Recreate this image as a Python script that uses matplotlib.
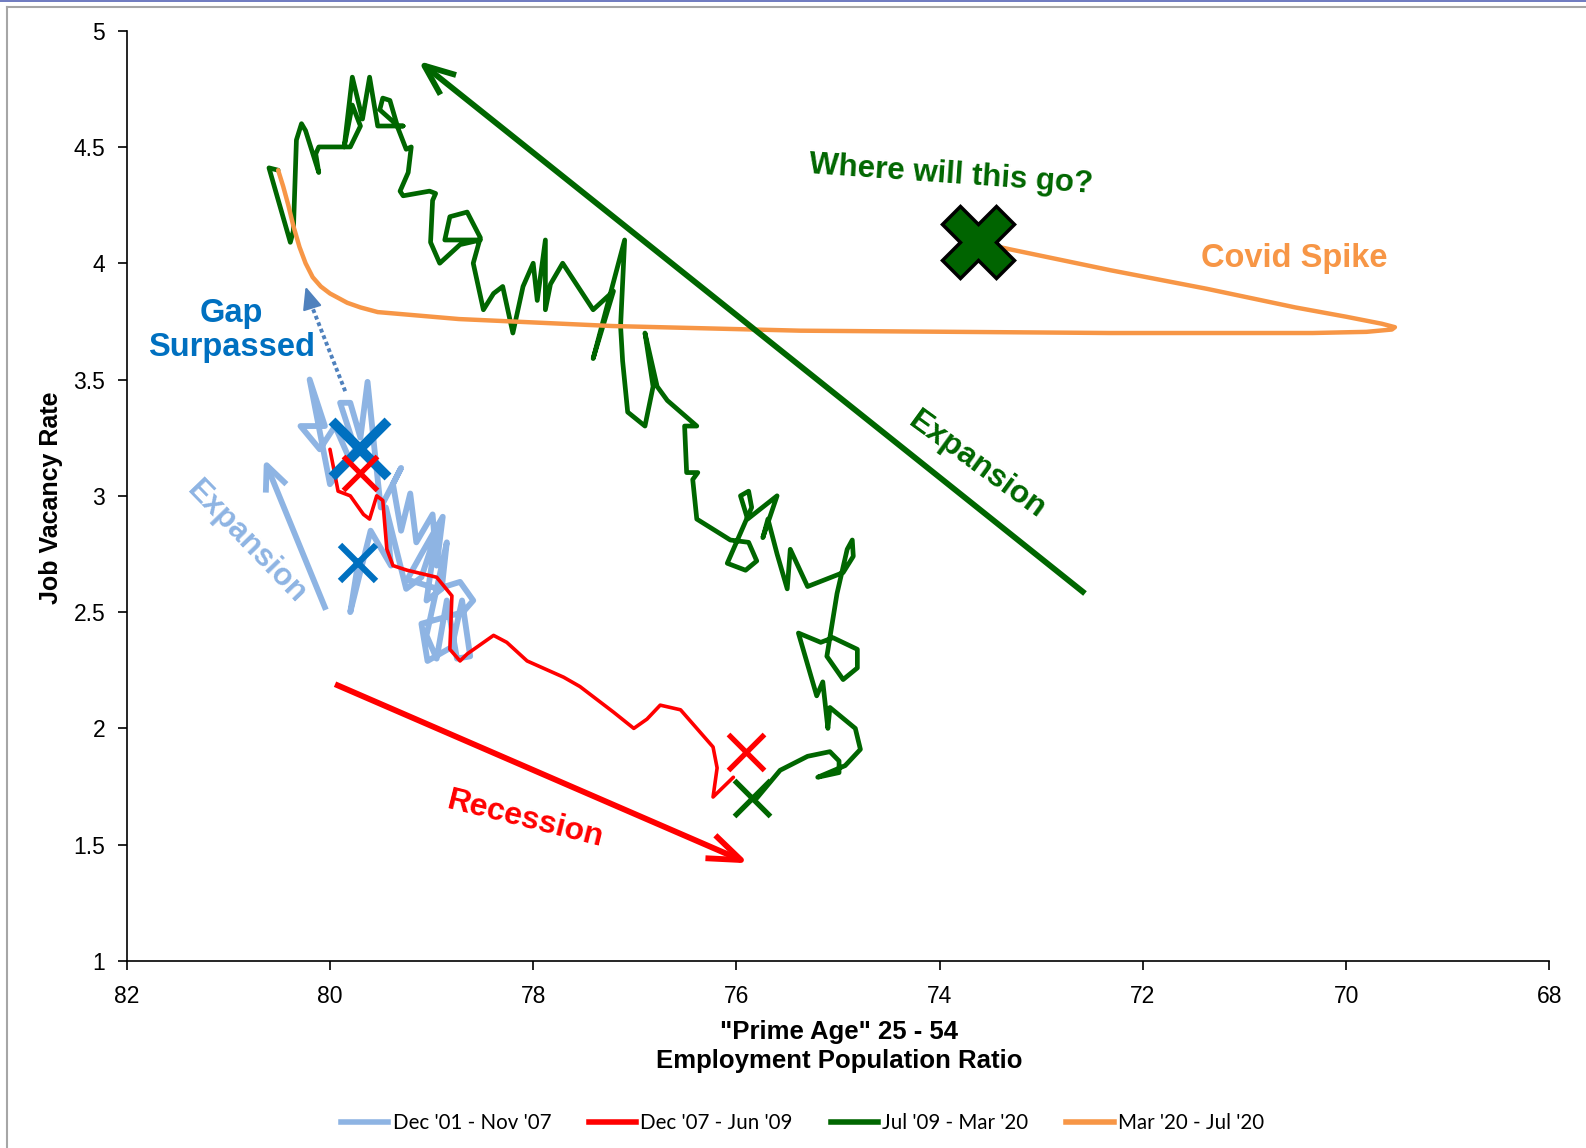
#!/usr/bin/env python3
"""Job vacancy rate vs prime-age employment-population ratio (Beveridge-style loop)."""

import matplotlib
matplotlib.use("Agg")
import matplotlib.pyplot as plt
from matplotlib.lines import Line2D

plt.rcParams["font.family"] = ["Liberation Sans", "DejaVu Sans"]

# --- data --------------------------------------------------------------------
LB_LABEL = "Dec '01 - Nov '07"
RED_LABEL = "Dec '07 - Jun '09"
GREEN_LABEL = "Jul '09 - Mar '20"
COVID_LABEL = "Mar '20 - Jul '20"

lb_x = [79.72, 79.80, 79.60, 79.40, 79.45, 79.25, 79.10, 78.95, 79.05, 78.90,
        78.85, 79.05, 78.95, 78.85, 78.75, 78.62, 78.70, 78.80, 79.04, 79.10,
        78.69, 78.59, 78.72, 78.94, 79.24, 79.10, 78.89, 78.95, 78.99, 79.15,
        79.21, 79.30, 79.38, 79.30, 79.50, 79.55, 79.63, 79.70, 79.80, 79.90,
        79.75, 80.00, 80.20, 80.05, 80.29, 80.10, 79.95, 79.80, 79.70]
lb_y = [2.72, 2.50, 2.85, 2.70, 2.95, 2.60, 2.65, 2.85, 2.55, 2.60,
        2.80, 2.40, 2.30, 2.55, 2.30, 2.31, 2.55, 2.35, 2.29, 2.45,
        2.50, 2.55, 2.63, 2.60, 2.64, 2.75, 2.91, 2.70, 2.92, 2.80,
        3.01, 2.85, 3.05, 3.12, 2.95, 3.15, 3.49, 3.25, 3.40, 3.40,
        3.20, 3.05, 3.50, 3.30, 3.30, 3.20, 3.30, 3.15, 3.20]

red_x = [80.00, 79.92, 79.80, 79.67, 79.61, 79.54, 79.48, 79.44, 79.38, 79.24,
         78.95, 78.80, 78.82, 78.72, 78.65, 78.39, 78.26, 78.06, 77.70, 77.54,
         77.21, 77.01, 76.88, 76.75, 76.55, 76.23, 76.19, 76.23, 76.03]
red_y = [3.20, 3.02, 3.00, 2.92, 2.90, 3.00, 2.98, 2.77, 2.70, 2.68,
         2.65, 2.57, 2.34, 2.29, 2.32, 2.40, 2.37, 2.29, 2.22, 2.18,
         2.07, 2.00, 2.04, 2.10, 2.08, 1.92, 1.83, 1.705, 1.79]

green_x = [75.80, 75.57, 75.30, 75.08, 74.99, 74.99, 75.20, 74.93, 74.78, 74.83,
           75.08, 75.10, 75.15, 75.21, 75.39, 75.17, 75.05, 74.81, 74.81, 74.95,
           75.11, 75.01, 74.91, 74.86, 74.85, 74.95, 75.30, 75.47, 75.50, 75.60,
           75.69, 75.74, 75.60, 75.89, 75.96, 75.88, 75.85, 75.99, 76.09, 75.91,
           75.80, 75.88, 76.06, 76.39, 76.43, 76.38, 76.49, 76.51, 76.39, 76.68,
           76.78, 76.90, 76.82, 76.90, 77.07, 77.12, 77.14, 77.10, 77.41, 77.21,
           77.41, 77.71, 77.83, 77.88, 77.88, 77.96, 78.00, 78.10, 78.20, 78.30,
           78.39, 78.49, 78.59, 78.52, 78.65, 78.82, 78.87, 78.52, 78.72, 78.92,
           79.01, 78.99, 78.96, 79.02, 79.28, 79.31, 79.23, 79.20, 79.25, 79.33,
           79.41, 79.48, 79.51, 79.33, 79.28, 79.53, 79.61, 79.68, 79.78, 79.86,
           79.78, 79.70, 79.80, 79.91, 80.11, 80.14, 80.11, 80.24, 80.28, 80.33,
           80.36, 80.39, 80.60, 80.51]
green_y = [1.70, 1.82, 1.88, 1.90, 1.86, 1.81, 1.79, 1.84, 1.91, 2.00,
           2.09, 2.00, 2.20, 2.14, 2.41, 2.37, 2.39, 2.34, 2.26, 2.21,
           2.31, 2.58, 2.77, 2.81, 2.74, 2.67, 2.61, 2.77, 2.60, 2.75,
           2.90, 2.82, 3.00, 2.90, 3.00, 3.02, 2.95, 2.81, 2.71, 2.68,
           2.72, 2.80, 2.81, 2.90, 3.07, 3.10, 3.10, 3.30, 3.30, 3.41,
           3.47, 3.70, 3.47, 3.30, 3.36, 3.58, 3.73, 4.10, 3.59, 3.88,
           3.80, 4.00, 3.91, 3.80, 4.10, 3.84, 4.00, 3.90, 3.70, 3.90,
           3.87, 3.80, 4.00, 4.11, 4.22, 4.20, 4.10, 4.10, 4.08, 4.00,
           4.09, 4.27, 4.30, 4.31, 4.29, 4.31, 4.39, 4.50, 4.49, 4.58,
           4.70, 4.71, 4.66, 4.59, 4.59, 4.59, 4.80, 4.62, 4.80, 4.50,
           4.68, 4.59, 4.50, 4.50, 4.50, 4.47, 4.39, 4.57, 4.60, 4.53,
           4.14, 4.09, 4.41, 4.40]

covid_x = [80.51, 80.46, 80.41, 80.36, 80.30, 80.24, 80.17, 80.09, 80.00, 79.83,
           79.70, 79.53, 78.73, 77.22, 75.37, 72.32, 70.33, 69.80, 69.55, 69.52,
           69.65, 70.00, 70.50, 71.37, 72.32, 73.31, 73.62]
covid_y = [4.40, 4.33, 4.25, 4.16, 4.07, 4.00, 3.94, 3.90, 3.87, 3.83,
           3.81, 3.79, 3.76, 3.73, 3.71, 3.70, 3.70, 3.705, 3.715, 3.725,
           3.74, 3.77, 3.81, 3.89, 3.97, 4.06, 4.09]

# period start / end markers
blue_x_big = (79.70, 3.20)
blue_x_small = (79.72, 2.71)
red_x_start = (79.70, 3.10)
red_x_end = (75.91, 1.90)
green_x_start = (75.85, 1.70)
covid_end = (73.62, 4.09)

x_ticks = [82, 80, 78, 76, 74, 72, 70, 68]
y_ticks = [1, 1.5, 2, 2.5, 3, 3.5, 4, 4.5, 5]
y_tick_labels = ["1", "1.5", "2", "2.5", "3", "3.5", "4", "4.5", "5"]

LIGHT_BLUE = "#8EB4E3"
RED = "#FF0000"
GREEN = "#006600"
ORANGE = "#F79646"
BLUE = "#0070C0"
DOT_BLUE = "#4F81BD"


def arrow(ax, tail, head, color, lw, head_len=1.1, head_w=0.45, style="->", ls="-"):
    ax.annotate(
        "", xy=head, xytext=tail,
        arrowprops=dict(
            arrowstyle=f"{style},head_length={head_len},head_width={head_w}",
            color=color, lw=lw, linestyle=ls, mutation_scale=20,
            shrinkA=0, shrinkB=0, capstyle="butt",
        ),
        zorder=4,
    )


def main() -> None:
    fig = plt.figure(figsize=(15.86, 11.48), dpi=100)
    ax = fig.add_axes([0.0799, 0.1629, 0.8970, 0.8104])

    line_kw = dict(solid_joinstyle="round", solid_capstyle="round")
    ax.plot(lb_x, lb_y, color=LIGHT_BLUE, lw=4.2, zorder=2, **line_kw)
    ax.plot(red_x, red_y, color=RED, lw=2.6, zorder=3, **line_kw)
    ax.plot(green_x, green_y, color=GREEN, lw=3.4, zorder=3, **line_kw)
    ax.plot(covid_x, covid_y, color=ORANGE, lw=3.2, zorder=3.5, **line_kw)

    # trend arrows
    arrow(ax, (72.57, 2.58), (79.13, 4.87), GREEN, 4.2)
    arrow(ax, (79.95, 2.19), (75.88, 1.42), RED, 4.2, head_len=1.2)
    arrow(ax, (80.04, 2.51), (80.65, 3.16), LIGHT_BLUE, 4.2, head_len=0.9, head_w=0.4)
    ax.plot([79.85, 80.20], [3.45, 3.84], color=DOT_BLUE, lw=2.8,
            linestyle=(0, (1.0, 0.8)), zorder=4)
    arrow(ax, (80.19, 3.83), (80.24, 3.90), DOT_BLUE, 1.5, head_len=0.7,
          head_w=0.3, style="-|>")

    # start / end markers
    ax.plot(*blue_x_small, marker="x", ms=26, mew=4.5, color=BLUE, zorder=5)
    ax.plot(*blue_x_big, marker="x", ms=40, mew=7, color=BLUE, zorder=5)
    ax.plot(*red_x_start, marker="x", ms=25, mew=3.8, color=RED, zorder=6)
    ax.plot(*red_x_end, marker="x", ms=26, mew=3.8, color=RED, zorder=6)
    ax.plot(*green_x_start, marker="x", ms=26, mew=3.8, color=GREEN, zorder=6)
    ax.plot(*covid_end, marker="X", ms=52, mew=2.5, color="#006400",
            markeredgecolor="black", zorder=6)

    # annotations
    ax.text(73.89, 4.38, "Where will this go?", color=GREEN, fontsize=22.5,
            fontweight="bold", rotation=-4, ha="center", va="center")
    ax.text(70.51, 4.02, "Covid Spike", color=ORANGE, fontsize=23.5,
            fontweight="bold", ha="center", va="center")
    ax.text(80.97, 3.71, "Gap\nSurpassed", color=BLUE, fontsize=23.5,
            fontweight="bold", ha="center", va="center", linespacing=1.1)
    ax.text(73.63, 3.13, "Expansion", color=GREEN, fontsize=23,
            fontweight="bold", rotation=-36, ha="center", va="center",
            rotation_mode="anchor")
    ax.text(80.82, 2.80, "Expansion", color=LIGHT_BLUE, fontsize=22.5,
            fontweight="bold", rotation=-46, ha="center", va="center",
            rotation_mode="anchor")
    ax.text(78.08, 1.61, "Recession", color=RED, fontsize=23,
            fontweight="bold", rotation=-14, ha="center", va="center",
            rotation_mode="anchor")

    # axes styling
    ax.set_xlim(82, 68)
    ax.set_ylim(1, 5)
    ax.set_xticks(x_ticks)
    ax.set_xticklabels([str(v) for v in x_ticks])
    ax.set_yticks(y_ticks)
    ax.set_yticklabels(y_tick_labels)
    for side in ("top", "right"):
        ax.spines[side].set_visible(False)
    for side in ("left", "bottom"):
        ax.spines[side].set_linewidth(1.2)
    ax.tick_params(axis="both", direction="out", length=6.5, width=1.2,
                   labelsize=16.5)
    ax.tick_params(axis="x", pad=10.5)
    ax.tick_params(axis="y", pad=9)

    fig.text(0.0319, 0.566, "Job Vacancy Rate", rotation=90, fontsize=18,
             fontweight="bold", ha="center", va="center")
    fig.text(0.529, 0.0885, "\"Prime Age\" 25 - 54\nEmployment Population Ratio",
             fontsize=18.5, fontweight="bold", ha="center", va="center",
             linespacing=1.3)

    handles = [Line2D([], [], color=c, lw=4) for c in (LIGHT_BLUE, RED, GREEN, ORANGE)]
    labels = [LB_LABEL, RED_LABEL, GREEN_LABEL, COVID_LABEL]
    fig.legend(handles, labels, loc="center", bbox_to_anchor=(0.506, 0.022),
               ncol=4, frameon=False, handlelength=2.3, handletextpad=0.2,
               columnspacing=1.85, prop={"family": "Lato", "size": 14.8})

    # slide frame
    fig.add_artist(Line2D([0.0044, 0.0044], [0, 1 - 6.5 / 1148],
                          color="#A6A6A6", lw=1.5, transform=fig.transFigure))
    fig.add_artist(Line2D([0.0044, 1], [1 - 6.5 / 1148, 1 - 6.5 / 1148],
                          color="#A6A6A6", lw=1.5, transform=fig.transFigure))
    fig.add_artist(Line2D([0, 1], [1 - 0.6 / 1148, 1 - 0.6 / 1148],
                          color="#5563B5", lw=1.2, transform=fig.transFigure))

    fig.savefig("out.png", dpi=100)


if __name__ == "__main__":
    main()
